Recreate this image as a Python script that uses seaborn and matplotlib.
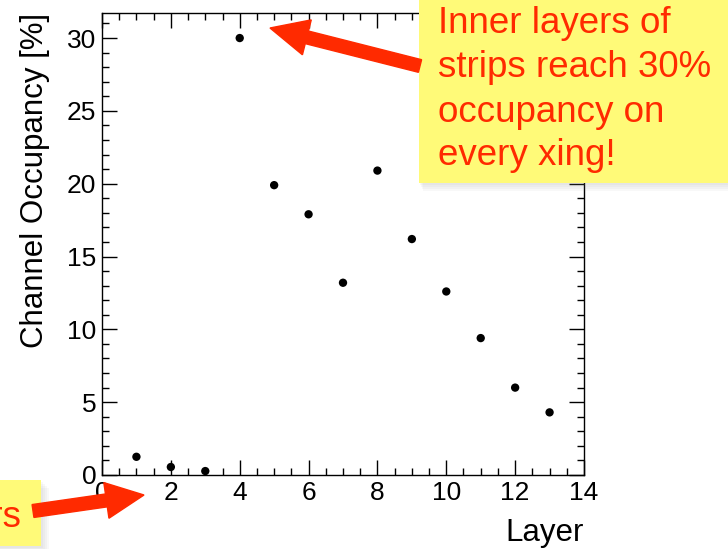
import matplotlib
matplotlib.use('Agg')
import matplotlib.pyplot as plt
import matplotlib.patches as mpatches
from matplotlib.transforms import IdentityTransform
from matplotlib.ticker import MultipleLocator
import seaborn as sns

# layer number vs channel occupancy in percent
layers = [1, 2, 3, 4, 5, 6, 7, 8, 9, 10, 11, 12, 13]
occupancy = [1.25, 0.55, 0.27, 30.0, 19.9, 17.9, 13.2, 20.9, 16.2, 12.6, 9.4, 6.0, 4.3]

x_label = 'Layer'
y_label = 'Channel Occupancy [%]'
note_lines = ['Inner layers of', 'strips reach 30%', 'occupancy on', 'every xing!']
note_left = 'Outer layers'

sns.set_style('ticks')
plt.rcParams['font.family'] = ['Liberation Sans', 'DejaVu Sans']

W, H = 728, 549
fig = plt.figure(figsize=(W / 100, H / 100), dpi=100)
ax = fig.add_axes([102 / W, 1 - 475 / H, (584 - 102) / W, (475 - 13) / H])

sns.scatterplot(x=layers, y=occupancy, ax=ax, color='black', s=36,
                edgecolor='none', zorder=3)

ax.set_xlim(0, 14)
ax.set_ylim(0, 31.72)
ax.xaxis.set_major_locator(MultipleLocator(2))
ax.xaxis.set_minor_locator(MultipleLocator(0.5))
ax.yaxis.set_major_locator(MultipleLocator(5))
ax.yaxis.set_minor_locator(MultipleLocator(1))
ax.tick_params(which='both', direction='in', top=True, right=True,
               colors='black', width=1.0)
ax.tick_params(which='major', length=10.5, labelsize=19, pad=4)
ax.tick_params(which='minor', length=5)
for sp in ax.spines.values():
    sp.set_linewidth(1.0)
    sp.set_color('black')

ax.set_xlabel(x_label, fontsize=22.5, loc='right', labelpad=10, color='black')
ax.set_ylabel(y_label, fontsize=22.5, loc='top', labelpad=12, color='black')


def px(x, y):
    return x, H - y


red = '#ff2a00'
yellow = '#fffa78'

# shadows and sticky-note boxes
for k in range(1, 5):
    fig.add_artist(mpatches.Rectangle(px(419 + k, 183 + 2 * k), 309, 183,
                                      transform=IdentityTransform(),
                                      facecolor='gray', alpha=0.05,
                                      edgecolor='none', zorder=5))
    fig.add_artist(mpatches.Rectangle(px(-10, 546 + 2 * k), 51 + 2 * k, 66,
                                      transform=IdentityTransform(),
                                      facecolor='gray', alpha=0.05,
                                      edgecolor='none', zorder=5))
fig.add_artist(mpatches.Rectangle(px(419, 183), 320, 190,
                                  transform=IdentityTransform(),
                                  facecolor=yellow, edgecolor='none', zorder=6))
fig.add_artist(mpatches.Rectangle(px(-10, 546), 51, 66,
                                  transform=IdentityTransform(),
                                  facecolor=yellow, edgecolor='none', zorder=6))

baselines = [33, 77, 122, 165]
for line, yb in zip(note_lines, baselines):
    fig.text(438 / W, 1 - yb / H, line, fontsize=26.5, color=red,
             ha='left', va='baseline', zorder=7)
fig.text(21 / W, 1 - 527 / H, note_left, fontsize=26.5, color=red,
         ha='right', va='baseline', zorder=7)

# arrows
for (x0, y0), (x1, y1) in [((420, 66), (270, 28)), ((33, 511), (144, 495))]:
    sx, sy = px(x0, y0)
    ex, ey = px(x1, y1)
    fig.add_artist(mpatches.FancyArrow(sx, sy, ex - sx, ey - sy, width=13,
                                       head_width=36, head_length=38,
                                       length_includes_head=True,
                                       transform=IdentityTransform(),
                                       color=red, zorder=8))

fig.savefig('out.png', dpi=100)
